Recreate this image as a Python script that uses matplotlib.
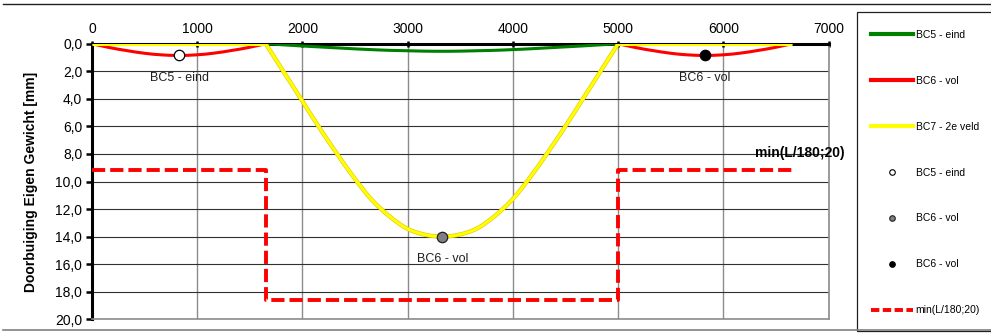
import matplotlib
matplotlib.use("Agg")
import matplotlib.pyplot as plt
import matplotlib.patheffects as pe
from matplotlib.lines import Line2D
from matplotlib.patches import PathPatch, Rectangle
from matplotlib.path import Path
from matplotlib.ticker import FuncFormatter, MultipleLocator
import numpy as np

plt.rcParams["font.family"] = ["Liberation Sans", "DejaVu Sans"]
plt.rcParams["lines.scale_dashes"] = False

# ── data (doorbuiging in mm, x in mm langs de ligger) ──────────
x_end_left = [0, 165, 330, 495, 660, 825, 990, 1155, 1320, 1485, 1650]
x_end_right = [5000, 5165, 5330, 5495, 5660, 5825, 5990, 6155, 6320, 6485, 6650]
y_red_end = [0, 0.28, 0.50, 0.69, 0.81, 0.85, 0.81, 0.69, 0.50, 0.28, 0]

x_mid = [1650, 1817.5, 1985, 2152.5, 2320, 2487.5, 2655, 2822.5, 2990, 3157.5, 3325,
         3492.5, 3660, 3827.5, 3995, 4162.5, 4330, 4497.5, 4665, 4832.5, 5000]
y_green_mid = [0, 0.08, 0.16, 0.23, 0.30, 0.37, 0.43, 0.48, 0.51, 0.54, 0.55,
               0.54, 0.51, 0.48, 0.43, 0.37, 0.30, 0.23, 0.16, 0.08, 0]
y_yellow_mid = [0, 2.0, 4.0, 6.0, 7.9, 9.7, 11.3, 12.5, 13.4, 13.85, 14.0,
                13.85, 13.4, 12.5, 11.3, 9.7, 7.9, 6.0, 4.0, 2.0, 0]
x_yellow_ends = [[0, 1650], [5000, 6650]]
y_yellow_ends = [0, 0]

x_limit = [0, 1650, 1650, 5000, 5000, 6650]
y_limit = [9.17, 9.17, 18.61, 18.61, 9.17, 9.17]

pt_bc5 = (830, 0.85)
pt_bc6_gray = (3330, 14.0)
pt_bc6_black = (5825, 0.85)

RED = "#FF0000"
GREEN = "#008000"
YELLOW = "#FFFF00"
W, H = 991, 334


def smooth_path(x, y):
    """Vloeiende lijn (zoals Excel 'smoothed line') door de punten: Catmull-Rom als Bezier."""
    p = np.column_stack([x, y]).astype(float)
    verts = [p[0]]
    codes = [Path.MOVETO]
    n = len(p)
    for i in range(n - 1):
        p0 = p[max(i - 1, 0)]
        p1, p2 = p[i], p[i + 1]
        p3 = p[min(i + 2, n - 1)]
        verts += [p1 + (p2 - p0) / 6, p2 - (p3 - p1) / 6, p2]
        codes += [Path.CURVE4] * 3
    return Path(verts, codes)


def add_smooth(ax, x, y, **kw):
    patch = PathPatch(smooth_path(x, y), fill=False, transform=ax.transData,
                      capstyle="round", joinstyle="round", **kw)
    ax.add_patch(patch)
    return patch


def main():
    fig = plt.figure(figsize=(W / 100, H / 100), dpi=100)
    ax = fig.add_axes([92 / W, 1 - 319.3 / H, (828.7 - 92) / W, (319.3 - 43.7) / H])

    # buitenkader (rechts buiten beeld)
    fig.add_artist(Line2D([3 / W, 3 / W, 1.0], [330 / H, 1 - 4 / H, 1 - 4 / H],
                          transform=fig.transFigure, color="#202020", lw=1.0))
    fig.add_artist(Line2D([3 / W, 1.0], [1 - 330 / H, 1 - 330 / H],
                          transform=fig.transFigure, color="#808080", lw=1.2))
    fig.add_artist(Rectangle((857 / W, 1 - 330.5 / H), 200 / W, (330.5 - 11.7) / H,
                             transform=fig.transFigure, fill=False,
                             ec="#202020", lw=0.9))

    ax.set_xlim(0, 7000)
    ax.set_ylim(20, 0)
    ax.xaxis.set_major_locator(MultipleLocator(1000))
    ax.yaxis.set_major_locator(MultipleLocator(2))
    ax.yaxis.set_major_formatter(FuncFormatter(lambda v, p: f"{v:.1f}".replace(".", ",")))
    ax.xaxis.tick_top()
    ax.tick_params(axis="x", direction="inout", length=5, width=1.8, labelsize=10, pad=3)
    ax.tick_params(axis="y", direction="out", length=4, width=1.8, labelsize=10, pad=3)

    # gridlijnen
    ax.grid(axis="x", color="#8c8c8c", lw=1.0)
    ax.grid(axis="y", color="#303030", lw=0.8)
    ax.set_axisbelow(True)
    for side in ("right", "bottom"):
        ax.spines[side].set_color("#8c8c8c")
        ax.spines[side].set_linewidth(1.2)
    ax.spines["left"].set_linewidth(2.2)
    ax.spines["top"].set_linewidth(2.2)
    for sp in ax.spines.values():
        sp.set_zorder(1.5)

    # lijnen
    add_smooth(ax, x_mid, y_green_mid, ec=GREEN, lw=2.2, zorder=3)
    add_smooth(ax, x_end_left, y_red_end, ec=RED, lw=2.2, zorder=3)
    add_smooth(ax, x_end_right, y_red_end, ec=RED, lw=2.2, zorder=3)
    yel_fx = [pe.Stroke(linewidth=3.0, foreground="#E0C400"), pe.Normal()]
    add_smooth(ax, x_mid, y_yellow_mid, ec=YELLOW, lw=2.2, zorder=4, path_effects=yel_fx)
    for xe in x_yellow_ends:
        ax.plot(xe, y_yellow_ends, color=YELLOW, lw=2.2, zorder=4, solid_capstyle="butt")
    ax.plot(x_limit, y_limit, color=RED, lw=2.8, dashes=(9.5, 3.6), zorder=5)

    # punten
    mk = dict(ls="none", marker="o", mew=0.9, zorder=6)
    ax.plot(*pt_bc5, ms=7.5, mfc="white", mec="black", **mk)
    ax.plot(*pt_bc6_gray, ms=7.5, mfc="#808080", mec="#202020", **mk)
    ax.plot(*pt_bc6_black, ms=7.5, mfc="black", mec="black", **mk)

    for (xp, yp), lbl in [(pt_bc5, "BC5 - eind"), (pt_bc6_gray, "BC6 - vol"),
                          (pt_bc6_black, "BC6 - vol")]:
        ax.annotate(lbl, (xp, yp), xytext=(0, -16), textcoords="offset points",
                    ha="center", va="center", fontsize=9, color="#202020")

    ax.text(7150, 7.9, "min(L/180;20)", ha="right", va="center", fontsize=10,
            fontweight="bold", clip_on=False, zorder=7)

    ax.set_ylabel("Doorbuiging Eigen Gewicht [mm]", fontsize=10, fontweight="bold", labelpad=12)

    # legenda
    handles = [
        Line2D([], [], color=GREEN, lw=3),
        Line2D([], [], color=RED, lw=3),
        Line2D([], [], color=YELLOW, lw=3),
        Line2D([], [], marker="o", ls="none", ms=4, mfc="white", mec="black", mew=0.8),
        Line2D([], [], marker="o", ls="none", ms=4, mfc="#808080", mec="#202020", mew=0.8),
        Line2D([], [], marker="o", ls="none", ms=4, mfc="black", mec="black", mew=0.8),
        Line2D([], [], color=RED, lw=2.8, dashes=(6, 2.5)),
    ]
    labels = ["BC5 - eind", "BC6 - vol", "BC7 - 2e veld", "BC5 - eind",
              "BC6 - vol", "BC6 - vol", "min(L/180;20)"]
    fig.legend(handles, labels, loc="upper left",
               bbox_to_anchor=(853 / W, 1 - 12 / H),
               fontsize=7.5, frameon=False,
               handlelength=4.1, handletextpad=0.2, borderpad=1.2,
               labelspacing=3.45)

    fig.savefig("out.png", dpi=100, facecolor="white")


if __name__ == "__main__":
    main()
